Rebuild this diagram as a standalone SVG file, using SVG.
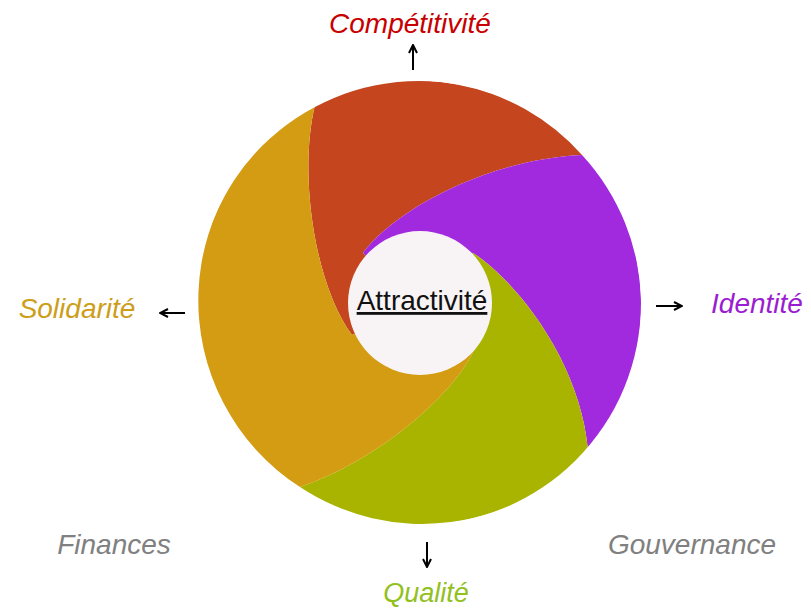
<svg xmlns="http://www.w3.org/2000/svg" width="811" height="610" viewBox="0 0 811 610">
<style>
.lbl{font-family:"Liberation Sans",Arial,sans-serif;font-size:28px;font-style:italic;text-anchor:middle}
.arr{stroke:#000;stroke-width:2;fill:none;marker-end:url(#ah)}
</style>
<defs>
<clipPath id="disc"><circle cx="419" cy="303" r="222"/></clipPath>
<marker id="ah" viewBox="0 0 10 10" refX="9" refY="5" markerWidth="10" markerHeight="10" markerUnits="userSpaceOnUse" orient="auto">
<path d="M1,1 L9,5 L1,9" stroke="#000" stroke-width="2" fill="none"/>
</marker>
</defs>
<rect width="811" height="610" fill="#fff"/>
<g id="wheel" clip-path="url(#disc)">
<path id="seg-red" fill="#c5461e" d="M420,303 L352,335 C315,285 298,175 315,105 A222 222 0 0 1 582,155 C480,160 390,215 363,253 Z"/>
<path id="seg-purple" fill="#a22ade" d="M420,303 L363,253 C390,215 480,160 582,155 A222 222 0 0 1 588,450 C580,360 515,280 473,253 Z"/>
<path id="seg-green" fill="#a8b400" d="M420,303 L473,253 C515,280 580,360 588,450 A222 222 0 0 1 300,487 C380,460 460,390 477,343 Z"/>
<path id="seg-gold" fill="#d49c12" d="M420,303 L477,343 C460,390 380,460 300,487 A222 222 0 0 1 315,105 C298,175 315,285 352,335 Z"/>
</g>
<g id="center">
<circle cx="420" cy="303" r="72" fill="#f8f4f6"/>
<text x="422" y="310" font-family="Liberation Sans, Arial, sans-serif" font-size="28" text-anchor="middle" fill="#111" text-decoration="underline">Attractivité</text>
</g>
<g id="connectors">
<line class="arr" x1="413" y1="70" x2="413" y2="45"/>
<line class="arr" x1="185" y1="313" x2="160" y2="313"/>
<line class="arr" x1="656" y1="306" x2="682" y2="306"/>
<line class="arr" x1="427" y1="542" x2="427" y2="567"/>
</g>
<g id="n-competitivite"><text class="lbl" x="410" y="33" fill="#c80000">Compétitivité</text></g>
<g id="n-solidarite"><text class="lbl" x="77" y="318" fill="#cc9e1a">Solidarité</text></g>
<g id="n-identite"><text class="lbl" x="757" y="313" fill="#9a1ed0">Identité</text></g>
<g id="n-qualite"><text class="lbl" x="426" y="602" font-size="27" fill="#92c01e" style="font-size:27px">Qualité</text></g>
<g id="n-finances"><text class="lbl" x="114" y="554" fill="#808080">Finances</text></g>
<g id="n-gouvernance"><text class="lbl" x="692" y="554" fill="#808080">Gouvernance</text></g>
</svg>
